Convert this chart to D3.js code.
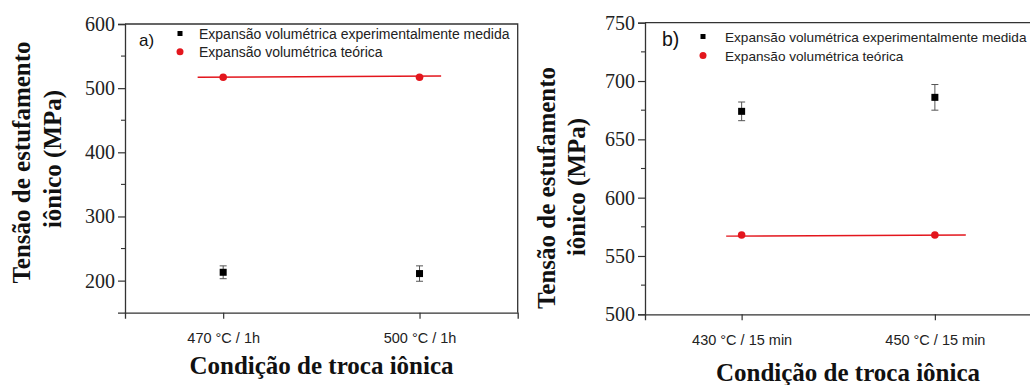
<!DOCTYPE html>
<html>
<head>
<meta charset="utf-8">
<script src="https://cdn.jsdelivr.net/npm/d3@7"></script>
<style>
  html, body { margin: 0; padding: 0; background: #fff; }
  svg { display: block; }
</style>
</head>
<body>
<svg id="chart" width="1030" height="385"></svg>
<script>
// ---- Panel a) : 1 h exchanges ----
const categoriesA = ["470 °C / 1h", "500 °C / 1h"];
const measuredA = [213, 211];
const measuredErrA = [10, 12];
const theoreticalA = [517, 517];
const fitXA = [0.87, 2.11];
const fitYA = [517, 519];
const yTicksA = [200, 300, 400, 500, 600];
const yMinorA = [250, 350, 450, 550];

// ---- Panel b) : 15 min exchanges ----
const categoriesB = ["430 °C / 15 min", "450 °C / 15 min"];
const measuredB = [674, 686];
const measuredErrB = [8, 11];
const theoreticalB = [568, 568];
const fitXB = [0.92, 2.16];
const fitYB = [567, 568];
const yTicksB = [500, 550, 600, 650, 700, 750];
const yMinorB = [525, 575, 625, 675, 725];

const legendLabels = ["Expansão volumétrica experimentalmente medida", "Expansão volumétrica teórica"];
const yTitleLines = ["Tensão de estufamento", "iônico (MPa)"];
const xTitle = "Condição de troca iônica";

const SERIF = "'Liberation Serif', 'Times New Roman', serif";
const SANS = "'Liberation Sans', Arial, sans-serif";
const AXIS = "#333";
const RED = "#e3161d";

const svg = d3.select("#chart");

function panel(cfg) {
  const g = svg.append("g");
  const x = d3.scaleLinear().domain([0.5, 2.5]).range([cfg.left, cfg.right]);
  const y = d3.scaleLinear().domain(cfg.yDomain).range([cfg.bottom, cfg.top]);

  // frame (top and right borders)
  g.append("path")
    .attr("d", `M${cfg.left},${cfg.top}H${cfg.right}V${cfg.bottom}`)
    .attr("fill", "none").attr("stroke", AXIS).attr("stroke-width", 1.3);

  // left axis
  const yAxis = g.append("g").attr("transform", `translate(${cfg.left},0)`)
    .call(d3.axisLeft(y).tickValues(cfg.yTicks).tickSize(7).tickPadding(3).tickFormat(d3.format("d")));
  yAxis.attr("font-family", SERIF).attr("font-size", 20);
  yAxis.select(".domain").attr("stroke", AXIS).attr("stroke-width", 1.3);
  yAxis.selectAll(".tick line").attr("stroke", AXIS).attr("stroke-width", 1.2);
  yAxis.selectAll(".tick text").attr("fill", "#222");
  g.append("g").selectAll("line").data(cfg.yMinor).join("line")
    .attr("x1", cfg.left - 4).attr("x2", cfg.left)
    .attr("y1", d => y(d)).attr("y2", d => y(d))
    .attr("stroke", AXIS).attr("stroke-width", 1.1);

  // bottom axis
  const xAxis = g.append("g").attr("transform", `translate(0,${cfg.bottom})`)
    .call(d3.axisBottom(x).tickValues([1, 2]).tickSize(6).tickPadding(14)
      .tickFormat(d => cfg.categories[d - 1]));
  xAxis.attr("font-family", SANS).attr("font-size", 14.5);
  xAxis.select(".domain").attr("stroke", AXIS).attr("stroke-width", 1.3);
  xAxis.selectAll(".tick line").attr("stroke", AXIS).attr("stroke-width", 1.2);
  xAxis.selectAll(".tick text").attr("fill", "#222");

  // fitted line of the theoretical expansion
  g.append("path")
    .datum(d3.zip(cfg.fitX, cfg.fitY))
    .attr("d", d3.line().x(d => x(d[0])).y(d => y(d[1])))
    .attr("fill", "none").attr("stroke", RED).attr("stroke-width", 1.4);

  // theoretical points
  g.append("g").selectAll("circle").data(cfg.theoretical).join("circle")
    .attr("cx", (d, i) => x(i + 1)).attr("cy", d => y(d)).attr("r", 3.8)
    .attr("fill", RED);

  // measured points with error bars
  const meas = g.append("g").selectAll("g").data(cfg.measured).join("g")
    .attr("transform", (d, i) => `translate(${x(i + 1)},0)`);
  meas.append("line")
    .attr("y1", (d, i) => y(d - cfg.err[i])).attr("y2", (d, i) => y(d + cfg.err[i]))
    .attr("stroke", "#555").attr("stroke-width", 1);
  meas.append("line").attr("x1", -3.5).attr("x2", 3.5)
    .attr("y1", (d, i) => y(d + cfg.err[i])).attr("y2", (d, i) => y(d + cfg.err[i]))
    .attr("stroke", "#555").attr("stroke-width", 1);
  meas.append("line").attr("x1", -3.5).attr("x2", 3.5)
    .attr("y1", (d, i) => y(d - cfg.err[i])).attr("y2", (d, i) => y(d - cfg.err[i]))
    .attr("stroke", "#555").attr("stroke-width", 1);
  meas.append("rect").attr("x", -3.5).attr("width", 7).attr("height", 7)
    .attr("y", d => y(d) - 3.5).attr("fill", "#000");

  // panel letter
  g.append("text").attr("x", cfg.letterX).attr("y", cfg.letterY)
    .attr("font-family", SANS).attr("font-size", cfg.letterSize).attr("fill", "#111")
    .text(cfg.letter);

  // legend
  const lg = g.append("g");
  lg.append("rect").attr("x", cfg.legX - 2.5).attr("y", cfg.legY0 - 2.5)
    .attr("width", 5).attr("height", 5).attr("fill", "#000");
  lg.append("circle").attr("cx", cfg.legX).attr("cy", cfg.legY1).attr("r", 3.5).attr("fill", RED);
  lg.selectAll("text").data(legendLabels).join("text")
    .attr("x", cfg.legTextX)
    .attr("y", (d, i) => (i === 0 ? cfg.legY0 : cfg.legY1) + 5)
    .attr("font-family", SANS).attr("font-size", cfg.legSize).attr("fill", "#222")
    .text(d => d);

  // axis titles
  g.append("text")
    .attr("x", cfg.xTitleX).attr("y", cfg.xTitleY).attr("text-anchor", "middle")
    .attr("font-family", SERIF).attr("font-weight", "bold").attr("font-size", 25)
    .attr("fill", "#111").text(xTitle);
  yTitleLines.forEach((t, i) => {
    g.append("text")
      .attr("transform", `translate(${cfg.yTitleX[i]},${cfg.yTitleY[i]}) rotate(-90)`)
      .attr("text-anchor", "middle")
      .attr("font-family", SERIF).attr("font-weight", "bold").attr("font-size", 25)
      .attr("fill", "#111").text(t);
  });
}

panel({
  left: 125, right: 517.7, top: 24, bottom: 312.7,
  yDomain: [150, 600], yTicks: yTicksA, yMinor: yMinorA,
  categories: categoriesA, measured: measuredA, err: measuredErrA,
  theoretical: theoreticalA, fitX: fitXA, fitY: fitYA,
  letter: "a)", letterX: 139, letterY: 45.5, letterSize: 17,
  legX: 180, legY0: 33.5, legY1: 51.7, legTextX: 199, legSize: 14,
  xTitleX: 321.5, xTitleY: 374,
  yTitleX: [30, 61], yTitleY: [162.5, 159]
});

panel({
  left: 645, right: 1031.5, top: 22.7, bottom: 314.3,
  yDomain: [500, 750], yTicks: yTicksB, yMinor: yMinorB,
  categories: categoriesB, measured: measuredB, err: measuredErrB,
  theoretical: theoreticalB, fitX: fitXB, fitY: fitYB,
  letter: "b)", letterX: 662, letterY: 46, letterSize: 19.5,
  legX: 703, legY0: 36.5, legY1: 55.5, legTextX: 725, legSize: 13.6,
  xTitleX: 848, xTitleY: 381,
  yTitleX: [555, 585], yTitleY: [188, 187]
});
</script>
</body>
</html>
